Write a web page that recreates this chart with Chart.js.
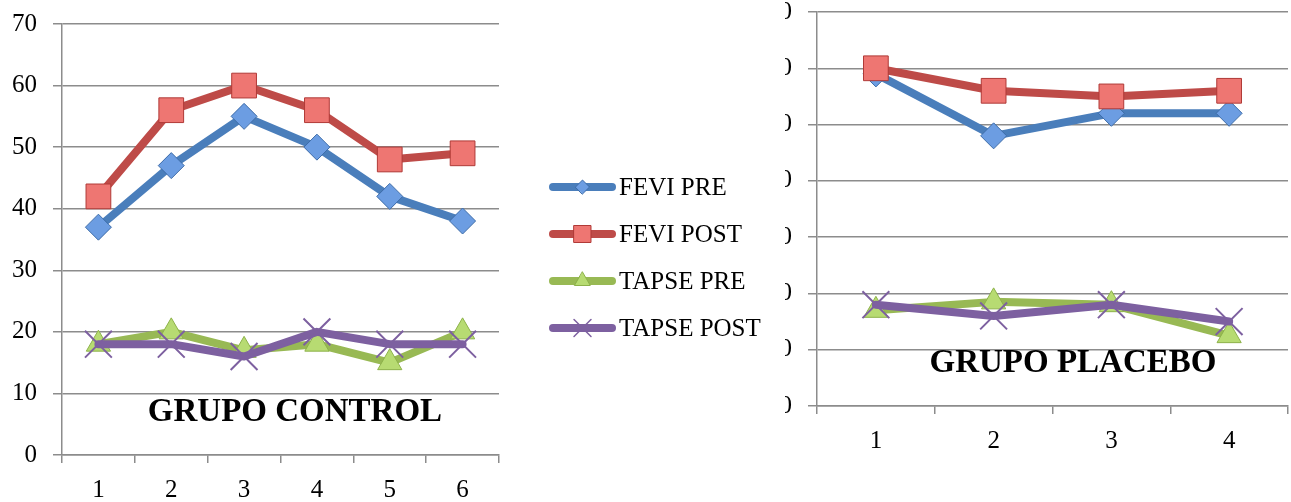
<!DOCTYPE html>
<html lang="es">
<head>
<meta charset="UTF-8">
<title>FEVI / TAPSE - Grupo Control y Grupo Placebo</title>
<script src="https://cdn.jsdelivr.net/npm/chart.js"></script>
<style>
    html, body { margin: 0; padding: 0; background: #fff; overflow: hidden; }
    .box-control { position: absolute; left: 0; top: 0; width: 780px; height: 502px; }
    .box-placebo { position: absolute; left: 785px; top: 0; width: 506px; height: 502px; overflow: hidden; }
    .box-placebo .inner { position: absolute; left: -30px; top: 0; width: 536px; height: 502px; }
</style>
</head>
<body>

<div class="box-control"><canvas id="controlChart"></canvas></div>
<div class="box-placebo"><div class="inner"><canvas id="placeboChart"></canvas></div></div>

<script>
// --- data ---
const seriesNames = ["FEVI PRE", "FEVI POST", "TAPSE PRE", "TAPSE POST"];

const controlLabels = ["1", "2", "3", "4", "5", "6"];
const controlFeviPre = [37, 47, 55, 50, 42, 38];
const controlFeviPost = [42, 56, 60, 56, 48, 49];
const controlTapsePre = [18, 20, 17, 18, 15, 20];
const controlTapsePost = [18, 18, 16, 20, 18, 18];

const placeboLabels = ["1", "2", "3", "4"];
const placeboFeviPre = [59, 48, 52, 52];
const placeboFeviPost = [60, 56, 55, 56];
const placeboTapsePre = [17, 18.5, 18, 12.5];
const placeboTapsePost = [18, 16, 18, 15];

const yMin = 0, yMax = 70, yStep = 10;

// excel 2007 style series look
const styles = [
    { line: "#4A7EBB", fill: "#6C9DE2", edge: "#3D6CA8", shape: "rectRot", r: 13, lr: 7 },
    { line: "#BE4B48", fill: "#EE7672", edge: "#B03A37", shape: "rect", r: 17.5, lr: 12 },
    { line: "#98B954", fill: "#B7DB72", edge: "#8DB24A", shape: "triangle", r: 14, lr: 9 },
    { line: "#7D60A0", fill: "#7D60A0", edge: "#7D60A0", shape: "crossRot", r: 19, lr: 12 }
];

const serif = "'Liberation Serif', 'Times New Roman', serif";
const gridGray = "#8C8C8C";

function makeDatasets(values) {
    return values.map((data, i) => ({
        label: seriesNames[i],
        data: data,
        borderColor: styles[i].line,
        borderWidth: 8,
        borderJoinStyle: "round",
        borderCapStyle: "round",
        tension: 0,
        pointStyle: styles[i].shape,
        pointRadius: styles[i].r,
        pointBackgroundColor: styles[i].fill,
        pointBorderColor: styles[i].edge,
        pointBorderWidth: i === 3 ? 2 : 1,
        order: 4 - i,   // later series drawn on top
        clip: false
    }));
}

// text box inside the plot ("GRUPO ...")
const boxTitle = {
    id: "boxTitle",
    afterDraw(chart, args, opts) {
        const ctx = chart.ctx;
        ctx.save();
        ctx.font = "bold 33px " + serif;
        ctx.fillStyle = "#000";
        ctx.textAlign = "center";
        ctx.textBaseline = "middle";
        ctx.fillText(opts.text, opts.x, opts.y);
        ctx.restore();
    }
};

// legend with line + marker, like the office one
const lineLegend = {
    id: "lineLegend",
    afterDraw(chart, args, opts) {
        if (!opts.show) return;
        const ctx = chart.ctx;
        chart.data.datasets.forEach((ds, i) => {
            const y = opts.y0 + i * opts.gap;
            const st = styles[i];
            ctx.save();
            ctx.strokeStyle = st.line;
            ctx.lineWidth = 8;
            ctx.lineCap = "round";
            ctx.beginPath();
            ctx.moveTo(opts.x0, y);
            ctx.lineTo(opts.x1, y);
            ctx.stroke();
            ctx.fillStyle = st.fill;
            ctx.strokeStyle = st.edge;
            ctx.lineWidth = i === 3 ? 1.5 : 1;
            Chart.helpers.drawPoint(ctx, { pointStyle: st.shape, radius: st.lr, rotation: 0, borderWidth: ctx.lineWidth },
                (opts.x0 + opts.x1) / 2, y);
            ctx.font = "25px " + serif;
            ctx.fillStyle = "#000";
            ctx.textAlign = "left";
            ctx.textBaseline = "middle";
            ctx.fillText(ds.label, opts.x1 + 7, y + 1);
            ctx.restore();
        });
    }
};

function makeChart(id, labels, values, setup) {
    return new Chart(document.getElementById(id), {
        type: "line",
        data: { labels: labels, datasets: makeDatasets(values) },
        options: {
            responsive: true,
            maintainAspectRatio: false,
            animation: false,
            layout: { padding: setup.padding, autoPadding: false },
            plugins: {
                legend: { display: false },
                tooltip: { enabled: false },
                boxTitle: setup.title,
                lineLegend: setup.legend
            },
            scales: {
                x: {
                    offset: true,
                    grid: { offset: true, drawOnChartArea: false, drawTicks: true, tickLength: 8, color: gridGray, lineWidth: 1.5 },
                    border: { display: true, color: gridGray, width: 1.5 },
                    ticks: { color: "#000", padding: 12, font: { family: serif, size: 25 } },
                    afterFit(scale) { scale.height = 47; }
                },
                y: {
                    min: yMin,
                    max: yMax,
                    grid: { color: gridGray, lineWidth: 1.5, tickLength: 9 },
                    border: { display: true, color: gridGray, width: 1.5 },
                    ticks: { stepSize: yStep, color: "#000", padding: 16, font: { family: serif, size: 25, lineHeight: 0.9 } },
                    afterFit(scale) {
                        scale.width = 62;
                        // plot top/bottom come from layout padding only
                        scale.paddingTop = 0;
                        scale.paddingBottom = 0;
                    }
                }
            }
        },
        plugins: [boxTitle, lineLegend]
    });
}

makeChart("controlChart", controlLabels,
    [controlFeviPre, controlFeviPost, controlTapsePre, controlTapsePost], {
        padding: { left: 0, top: 24, right: 281, bottom: 0 },
        title: { text: "GRUPO CONTROL", x: 295, y: 412 },
        legend: { show: true, x0: 553, x1: 612, y0: 187, gap: 47 }
    });

makeChart("placeboChart", placeboLabels,
    [placeboFeviPre, placeboFeviPost, placeboTapsePre, placeboTapsePost], {
        padding: { left: 0, top: 12, right: 3, bottom: 49 },
        title: { text: "GRUPO PLACEBO", x: 1073 - 755, y: 363 },
        legend: { show: false }
    });
</script>
</body>
</html>
